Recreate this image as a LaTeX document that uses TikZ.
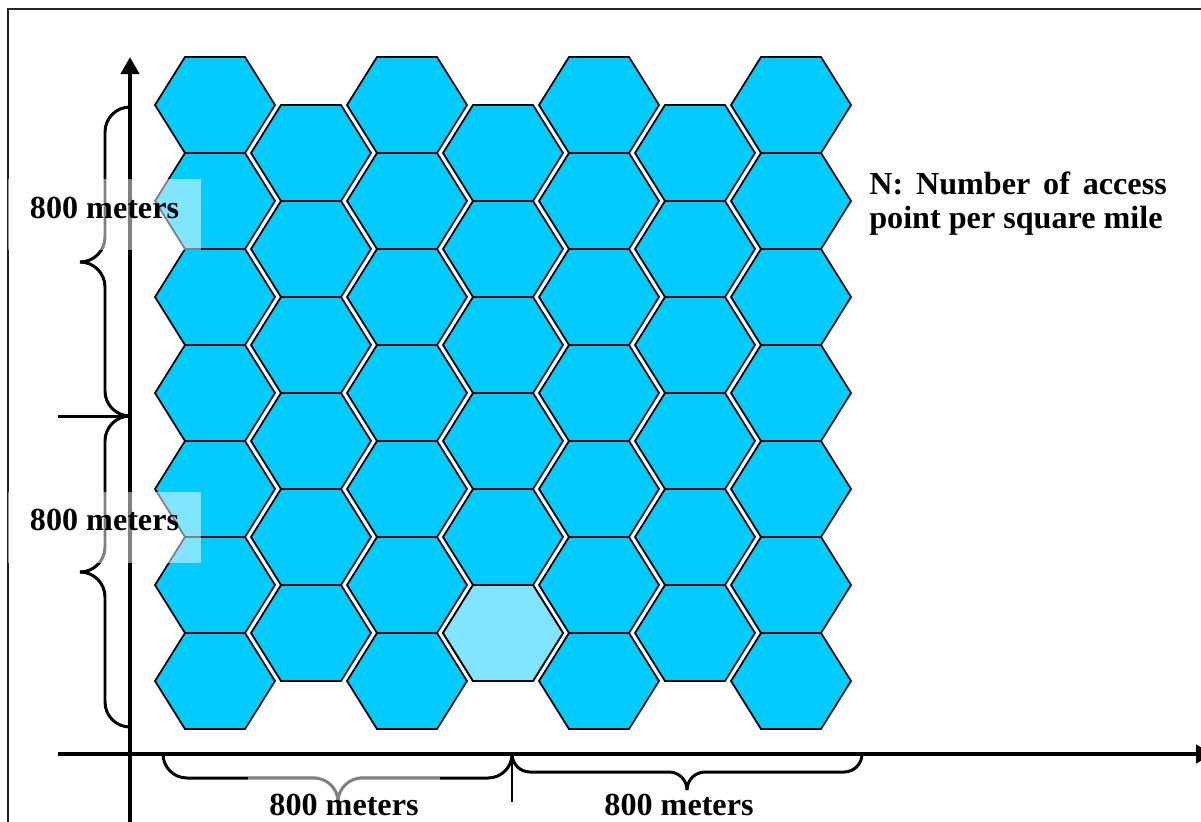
\documentclass[tikz,border=0pt]{standalone}
\usepackage{fontspec}
\setmainfont{Liberation Serif}
\usepackage{tikz}
\usetikzlibrary{arrows.meta}

\definecolor{hexblue}{RGB}{0,204,255}
\definecolor{hexpale}{RGB}{128,229,255}

\begin{document}
\begin{tikzpicture}[
  x=0.02cm, y=-0.02cm,
  cell/.style={draw=black, line width=1pt, fill=hexblue},
  palecell/.style={cell, fill=hexpale},
  hexcell/.pic={\path[pic actions] (-60,0) -- (-30,-48) -- (30,-48) -- (60,0) -- (30,48) -- (-30,48) -- cycle;},
  axis/.style={line width=2.8pt, -{Triangle[length=0.34cm, width=0.36cm]}},
  tickline/.style={line width=1.7pt},
  bracefig/.style={line width=1.7pt, rounded corners=0.5cm},
  lbl/.style={inner sep=0pt, font=\bfseries\fontsize{18.3}{22}\selectfont, text depth=0.28cm, minimum width=3.86cm, minimum height=1.42cm},
  veil/.style={lbl, fill=white, fill opacity=0.5, text opacity=1},
  note/.style={inner sep=0pt, align=justify, text width=5.95cm, font=\bfseries\fontsize{18.3}{19.3}\selectfont},
]
\useasboundingbox (0,0) rectangle (1201,822);

%% --- Frame ---
\draw[line width=0.04cm, black!85] (8,9) rectangle (1240,860);

%% --- Hexagon grid ---
\foreach \col in {0,2,4,6}
  \foreach \row in {0,...,6}
    \pic[cell] at ({215+96*\col},{105+96*\row}) {hexcell};
\foreach \col in {1,3,5}
  \foreach \row in {0,...,5}
    \pic[cell] at ({215+96*\col},{153+96*\row}) {hexcell};
\pic[palecell] at (503,633) {hexcell};

%% --- Axes ---
\coordinate (ybase) at (130,840);
\coordinate (ytip)  at (130,57);
\coordinate (xbase) at (58,754);
\coordinate (xtip)  at (1213,754);
\draw[axis] (ybase) -- (ytip);
\draw[axis] (xbase) -- (xtip);

%% --- Ticks ---
\coordinate (ymid)  at (130,416);
\coordinate (ytick) at (58,416);
\coordinate (xmid)  at (512,754);
\coordinate (xtick) at (512,802);
\draw[tickline] (ytick) -- (ymid);
\draw[tickline] (xmid) -- (xtick);

%% --- Braces ---
\draw[bracefig] (130,107) -| (105,262) -- (80,262);
\draw[bracefig] (80,262) -| (105,416) -- (130,416);
\draw[bracefig] (130,416) -| (105,572) -- (80,572);
\draw[bracefig] (80,572) -| (105,727) -- (130,727);
\draw[bracefig, rounded corners=0.48cm] (163,754) |- (338,778) -- (338,802);
\draw[bracefig, rounded corners=0.48cm] (338,802) |- (512,778) -- (512,754);
\draw[bracefig, rounded corners=0.36cm] (512,754) |- (687,772) -- (687,790);
\draw[bracefig, rounded corners=0.36cm] (687,790) |- (862,772) -- (862,754);

%% --- Labels ---
\node[veil] (upperlbl) at (104.5,214.5) {800 meters};
\node[veil] (lowerlbl) at (104.5,527)   {800 meters};
\node[veil] (leftlbl)  at (344,812)     {800 meters};
\node[lbl]  (rightlbl) at (679,812)     {800 meters};
\node[note, anchor=north west] (legend) at (869,172) {N: Number of access point per square mile};

\end{tikzpicture}
\end{document}
